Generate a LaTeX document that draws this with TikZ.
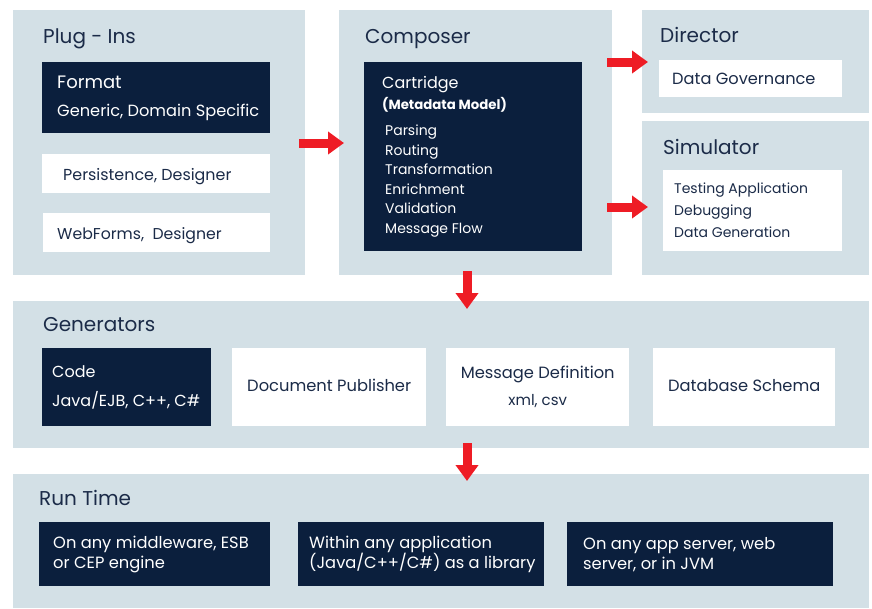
\documentclass[tikz,border=0pt]{standalone}
\usepackage{fontspec}
\setmainfont{Poppins}
\usetikzlibrary{arrows.meta}
\definecolor{panel}{HTML}{D3E0E6}
\definecolor{navy}{HTML}{0B1F3D}
\definecolor{ink}{HTML}{1B2B48}
\definecolor{arrowred}{HTML}{EE1C25}
\newcommand\fsz[2]{\fontsize{#1}{#2}\selectfont}
\tikzset{
  panelbox/.style={fill=panel, draw=none, anchor=north west, inner sep=0pt},
  darkbox/.style={fill=navy, draw=none, anchor=north west, inner sep=0pt},
  whitebox/.style={fill=white, draw=none, anchor=north west, inner sep=0pt},
  ltext/.style={anchor=west, inner sep=0pt, align=left, text=ink},
  dtext/.style={anchor=west, inner sep=0pt, align=left, text=white},
  ctext/.style={inner sep=0pt, align=center, text=ink},
  ptitle/.style={anchor=base west, inner sep=0pt, text=ink, font=\fsz{20}{24}},
  redarr/.style={draw=arrowred, line width=9pt, -{Triangle[length=16pt,width=22pt]}},
}
\begin{document}
\begin{tikzpicture}[x=1pt,y=-1pt]
\useasboundingbox (0,0) rectangle (872,608);
% panels
\node[panelbox, minimum width=292pt, minimum height=265pt] (plug) at (13,10) {};
\node[panelbox, minimum width=273pt, minimum height=265pt] (comp) at (339,10) {};
\node[panelbox, minimum width=227pt, minimum height=103pt] (dir) at (642,10) {};
\node[panelbox, minimum width=227pt, minimum height=154pt] (sim) at (642,121) {};
\node[panelbox, minimum width=856pt, minimum height=147pt] (gen) at (13,301) {};
\node[panelbox, minimum width=856pt, minimum height=134pt] (run) at (13,474) {};
% titles
\node[ptitle] (tplug) at (43,43) {Plug - Ins};
\node[ptitle] (tcomp) at (365,43) {Composer};
\node[ptitle] (tdir) at (660,42) {Director};
\node[ptitle] (tsim) at (663,154) {Simulator};
\node[ptitle] (tgen) at (43,331) {Generators};
\node[ptitle] (trun) at (39,505) {Run Time};
% plug-ins
\node[darkbox, minimum width=228pt, minimum height=71pt] (fmt) at (42,62) {};
\node[dtext, font=\fsz{16}{28}] (fmtT) at ([xshift=15pt,yshift=-1pt]fmt.west)
  {{\fsz{18}{22}Format}\\{\fsz{16.2}{18}Generic, Domain Specific}};
\node[whitebox, minimum width=228pt, minimum height=39pt] (pers) at (42,154) {};
\node[ltext, font=\fsz{15.9}{22}] (persT) at ([xshift=21pt,yshift=-2.5pt]pers.west) {Persistence, Designer};
\node[whitebox, minimum width=227pt, minimum height=39pt] (webf) at (43,213) {};
\node[ltext, font=\fsz{15.7}{22}] (webfT) at ([xshift=14pt,yshift=-3pt]webf.west) {WebForms,\ \ Designer};
% composer
\node[darkbox, minimum width=218pt, minimum height=189pt] (cart) at (364,62) {};
\node[anchor=base west, inner sep=0pt, text=white, font=\fsz{16}{20}] (cartT) at (382,88) {Cartridge};
\node[anchor=base west, inner sep=0pt, text=white, font=\bfseries\fsz{13.3}{16}] (cartM) at (382,109) {(Metadata Model)};
\node[dtext, font=\fsz{14}{19.6}] (cartL) at (385,181)
  {Parsing\\Routing\\Transformation\\Enrichment\\Validation\\Message Flow};
% director / simulator
\node[whitebox, minimum width=183pt, minimum height=37pt] (dgov) at (659,60) {};
\node[ltext, font=\fsz{16.2}{22}] (dgovT) at ([xshift=13pt]dgov.west) {Data Governance};
\node[whitebox, minimum width=179pt, minimum height=81pt] (simb) at (663,170) {};
\node[ltext, font=\fsz{14}{22}] (simbT) at ([xshift=11pt]simb.west)
  {Testing Application\\Debugging\\Data Generation};
% generators
\node[darkbox, minimum width=169pt, minimum height=78pt] (code) at (42,348) {};
\node[dtext, font=\fsz{16}{29}] (codeT) at ([xshift=10pt]code.west)
  {Code\\Java/EJB, C++, C\#};
\node[whitebox, minimum width=194pt, minimum height=78pt] (docp) at (232,348) {};
\node[ctext, font=\fsz{16.3}{20}] (docpT) at ([yshift=1.5pt]docp.center) {Document Publisher};
\node[whitebox, minimum width=183pt, minimum height=78pt] (msgd) at (446,348) {};
\node[ctext, font=\fsz{16}{27}] (msgdT) at (msgd.center)
  {{\fsz{16.3}{18}Message Definition}\\{\fsz{15}{18}xml, csv}};
\node[whitebox, minimum width=182pt, minimum height=78pt] (dbs) at (653,348) {};
\node[ctext, font=\fsz{16.3}{20}] (dbsT) at ([yshift=1.5pt]dbs.center) {Database Schema};
% run time
\node[darkbox, minimum width=231pt, minimum height=64pt] (rt1) at (39,522) {};
\node[dtext, font=\fsz{16.3}{20}] (rt1T) at ([xshift=14pt]rt1.west) {On any middleware, ESB\\or CEP engine};
\node[darkbox, minimum width=246pt, minimum height=64pt] (rt2) at (298,522) {};
\node[dtext, font=\fsz{16.3}{20}] (rt2T) at ([xshift=11pt]rt2.west) {Within any application\\(Java/C++/C\#) as a library};
\node[darkbox, minimum width=266pt, minimum height=64pt] (rt3) at (567,522) {};
\node[dtext, font=\fsz{16.3}{20}] (rt3T) at ([xshift=16pt]rt3.west) {On any app server, web\\server, or in JVM};
% arrows
\draw[redarr] ([xshift=-6pt]plug.east |- 0,143) -- ([xshift=5pt]comp.west |- 0,143);
\draw[redarr] ([xshift=-5pt]comp.east |- 0,62) -- ([xshift=6pt]dir.west |- 0,62);
\draw[redarr] ([xshift=-5pt]comp.east |- 0,207) -- ([xshift=6pt]sim.west |- 0,207);
\draw[redarr] ([yshift=4pt]comp.south -| 467,0) -- ([yshift=-8pt]gen.north -| 467,0);
\draw[redarr] ([yshift=5pt]gen.south -| 467,0) -- ([yshift=-7pt]run.north -| 467,0);
\end{tikzpicture}
\end{document}
